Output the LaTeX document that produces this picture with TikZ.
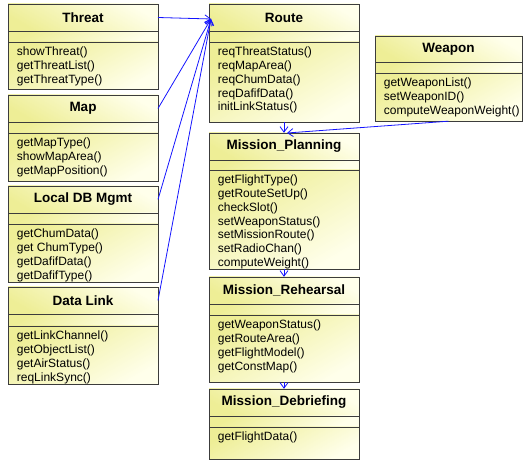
\documentclass[tikz,border=0pt]{standalone}
\usepackage{fontspec}
\setmainfont{Liberation Sans}
\usetikzlibrary{arrows.meta,fit}
\definecolor{Ytop}{RGB}{238,238,150}
\definecolor{Ybot}{RGB}{255,255,235}
\definecolor{Bline}{RGB}{60,60,60}
\definecolor{Conn}{RGB}{20,20,255}
\tikzset{
  boxshade/.style={top color=Ytop, bottom color=Ybot, shading angle=30},
  titleshade/.style={top color=Ybot, bottom color=Ytop, shading angle=-30},
  boxline/.style={draw=Bline, line width=0.9pt},
  titletext/.style={font=\fontsize{13.5}{15}\selectfont\bfseries, inner sep=0pt},
  methtext/.style={font=\fontsize{12}{13.75}\selectfont, align=left, anchor=north west, inner sep=0pt},
  conn/.style={draw=Conn, line width=0.8pt, -{Straight Barb[length=5.5pt,width=8pt]}},
}
\newcommand\umlclass[9]{%
  \shade[titleshade] (#2,#4) rectangle (#3,#5);
  \shade[boxshade] (#2,#5) rectangle (#3,#6);
  \shade[boxshade] (#2,#6) rectangle (#3,#7);
  \draw[boxline] (#2,#4) rectangle (#3,#7);
  \draw[boxline] (#2,#5) -- (#3,#5) (#2,#6) -- (#3,#6);
  \node[titletext] (#1t) at ({(#2+#3)/2},{(#4+#5)/2}) {#8};
  \coordinate (#1te) at (#3,{(#4+#5)/2});
  \node[methtext] (#1m) at (#2+8.7,#6+5) {#9};
  \path (#2,#4) coordinate (#1nw) (#3,#7) coordinate (#1se);
  \node[fit=(#1nw)(#1se), inner sep=0pt] (#1) {};
}
\begin{document}
\begin{tikzpicture}[x=1pt,y=-1pt]
\useasboundingbox (0,0) rectangle (523,462);
\umlclass{threat}{8}{158}{4}{31}{42}{89}{Threat}{showThreat()\\getThreatList()\\getThreatType()}
\umlclass{map}{8}{158}{95}{122}{133}{181}{Map}{getMapType()\\showMapArea()\\getMapPosition()}
\umlclass{ldb}{8}{158}{186}{213}{224}{282}{Local DB Mgmt}{getChumData()\\get ChumType()\\getDafifData()\\getDafifType()}
\umlclass{dlink}{8}{158}{287}{314}{326}{384}{Data Link}{getLinkChannel()\\getObjectList()\\getAirStatus()\\reqLinkSync()}
\umlclass{route}{209}{359}{4}{31}{42}{122}{Route}{reqThreatStatus()\\reqMapArea()\\reqChumData()\\reqDafifData()\\initLinkStatus()}
\umlclass{weapon}{375}{522}{36}{62}{73}{121}{Weapon}{getWeaponList()\\setWeaponID()\\computeWeaponWeight()}
\umlclass{plan}{209}{359}{133}{160}{170}{269}{Mission\_Planning}{getFlightType()\\getRouteSetUp()\\checkSlot()\\setWeaponStatus()\\setMissionRoute()\\setRadioChan()\\computeWeight()}
\umlclass{reh}{209}{359}{277}{304}{315}{382}{Mission\_Rehearsal}{getWeaponStatus()\\getRouteArea()\\getFlightModel()\\getConstMap()}
\umlclass{deb}{209}{359}{389}{416}{427}{459}{Mission\_Debriefing}{getFlightData()}
\coordinate (routein) at (211,19);
\coordinate (planin) at (287,133);
\draw[conn] (threatte) -- (routein);
\draw[conn] (mapte) -- (routein);
\draw[conn] (ldbte) -- (routein);
\draw[conn] (dlinkte) -- (routein);
\draw[conn] (route.south) -- (plan.north);
\draw[conn] (weapon.south) -- (planin);
\draw[conn] (plan.south) -- (reh.north);
\draw[conn] (reh.south) -- (deb.north);
\end{tikzpicture}
\end{document}
